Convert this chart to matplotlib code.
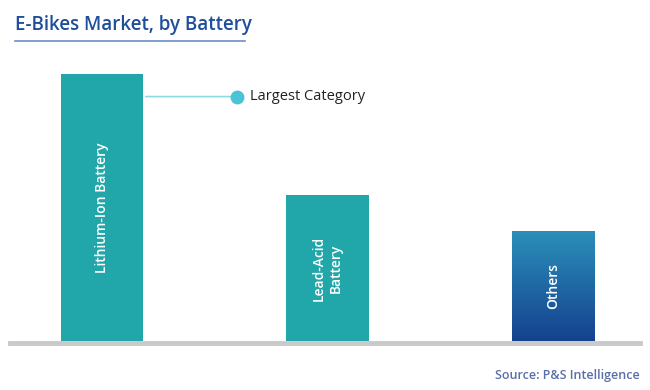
import numpy as np
import matplotlib.pyplot as plt
from matplotlib.colors import LinearSegmentedColormap

plt.rcParams['font.family'] = ['Open Sans', 'DejaVu Sans']

# DATA
categories = ['Lithium-Ion Battery', 'Lead-Acid\nBattery', 'Others']
values = [100, 54.5, 41]

# FIGURE
fig = plt.figure(figsize=(6.5, 3.9), dpi=100)
ax = fig.add_axes([10/650, (390-341)/390, 630/650, (341-60)/390])

x = np.arange(len(categories))
bars = ax.bar(x, values, width=0.364, color='#21A6A9', zorder=2)

# gradient on the last bar
cmap = LinearSegmentedColormap.from_list('blu', ['#2B8FB9', '#15418F'])
last = bars[-1]
bx, bw, bh = last.get_x(), last.get_width(), last.get_height()
last.set_facecolor('none')
grad = np.linspace(0, 1, 256).reshape(-1, 1)
im = ax.imshow(grad, cmap=cmap, aspect='auto', extent=[bx, bx + bw, 0, bh],
               origin='upper', zorder=2)
im.set_clip_path(last)

ax.set_xlim(-0.408, 2.386)
ax.set_ylim(0, 105.2)
ax.axis('off')

# bar labels
for xi, v, lab in zip(x, values, categories):
    ax.text(xi, v / 2, lab, rotation=90, ha='center', va='center',
            color='white', fontsize=10, fontweight='semibold', zorder=3,
            linespacing=1.25)

# baseline
fig.add_artist(plt.Line2D([10/650, 640/650], [(390-343)/390]*2,
                          color='#C9C9C9', lw=3.5))

# annotation
ax.annotate('', xy=(bars[0].get_x() + bars[0].get_width(), 91.5),
            xytext=(0.6, 91.5),
            arrowprops=dict(arrowstyle='-', color='#8FD9E3', lw=1.2))
ax.plot([0.6], [91.5], 'o', color='#4BC3D6', markersize=9, zorder=3)
ax.text(0.655, 91.5, 'Largest Category', ha='left', va='center',
        fontsize=10.5, color='#222222')

# title
fig.text(15/650, 1 - 25/390, 'E-Bikes Market, by Battery', ha='left',
         va='center', fontsize=13.5, color='#1F4E9A', fontweight='semibold')
fig.add_artist(plt.Line2D([15/650, 245/650], [1 - 41/390]*2,
                          color='#6A8FC8', lw=1.2))

# source
fig.text(640/650, 1 - 375/390, 'Source: P&S Intelligence', ha='right',
         va='center', fontsize=9, color='#5A6FA8', fontweight='semibold')

plt.savefig('out.png', dpi=100)
